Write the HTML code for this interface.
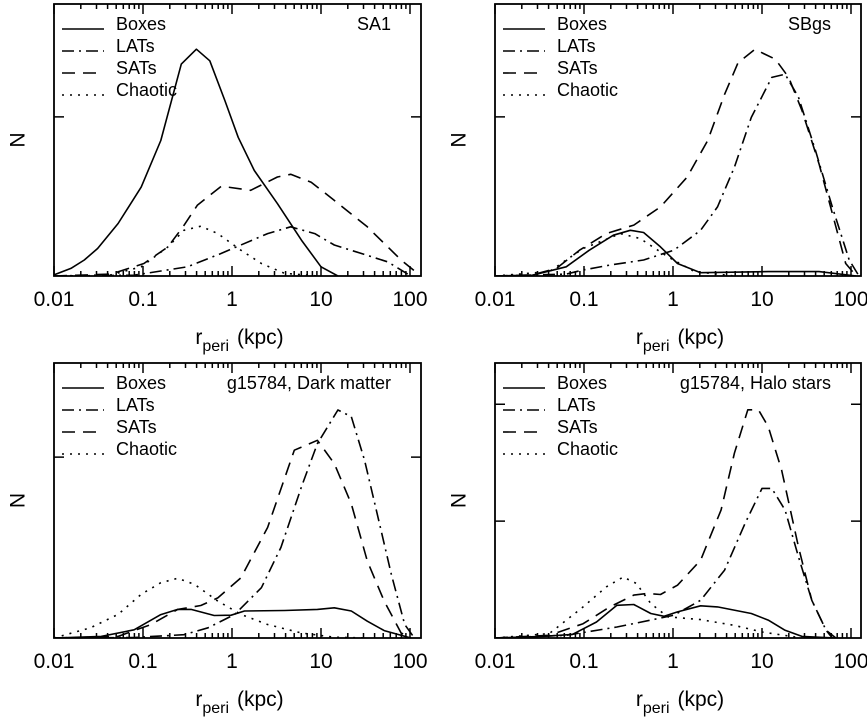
<!DOCTYPE html>
<html><head><meta charset="utf-8">
<style>
html,body{margin:0;padding:0;background:#fff;}
svg{display:block;font-family:"Liberation Sans",sans-serif;}
</style></head>
<body>
<svg id="fig" width="867" height="720" viewBox="0 0 867 720"></svg>
<script>
// ---- data (log10 r_peri [kpc], N in arbitrary units, 0..100 = panel height) ----
const xTickLabels = ["0.01","0.1","1","10","100"];
const seriesNames = ["Boxes","LATs","SATs","Chaotic"];
const panelTitles = ["SA1","SBgs","g15784, Dark matter","g15784, Halo stars"];

const saBoxesX = [-2,-1.81,-1.66,-1.51,-1.28,-1.02,-0.80,-0.57,-0.40,-0.25,-0.08,0.07,0.25,0.51,0.78,1.0,1.19];
const saBoxesY = [0.4,2.8,5.9,10.1,19.3,32.7,49.8,77.9,83.4,79.1,64.5,51.0,38.8,26.6,13.2,3.4,0];
const saLatsX = [-2,-1.10,-0.50,-0.12,0.10,0.40,0.66,0.93,1.15,1.45,1.75,2.01];
const saLatsY = [0,0.3,3.4,8.3,11.4,15.6,18.1,15.6,11.4,8.3,5.2,0];
const saSatsX = [-2,-1.36,-0.99,-0.72,-0.55,-0.39,-0.12,0.21,0.51,0.66,0.89,1.15,1.52,1.90,2.12];
const saSatsY = [0,0.7,4.6,10.7,18.1,26,33,31.5,36.4,37.4,34.5,27.8,18.1,5.9,0];
const saChaosX = [-2,-1.36,-1.02,-0.72,-0.54,-0.35,-0.16,0.10,0.33,0.59,0.96];
const saChaosY = [0,0.4,3.4,10.7,16.8,18.3,15.6,9.5,4.6,1,0];

const sbBoxesX = [-2,-1.58,-1.20,-0.94,-0.67,-0.48,-0.33,-0.14,0.05,0.31,1.07,1.64,2.06];
const sbBoxesY = [0,0.3,3.4,9.5,15,16.8,16,10.7,4.6,1.2,1.6,1.6,0];
const sbLatsX = [-2,-1.20,-1.01,-0.71,-0.33,0.01,0.31,0.50,0.69,0.88,1.11,1.26,1.41,1.60,1.79,1.98,2.09];
const sbLatsY = [0,0.7,2.2,4,5.9,9.5,16.8,25.4,40,58.3,73,74.2,65.7,46.2,25.4,5.9,0];
const sbSatsX = [-2,-1.58,-1.31,-1.05,-0.75,-0.44,-0.14,0.16,0.39,0.58,0.73,0.92,1.15,1.30,1.45,1.64,1.83,1.94,2.06];
const sbSatsY = [0,0.4,2.8,9.5,15.6,18.7,25.4,36.4,49.8,66.8,78.4,83.3,79.7,73,60.8,41.3,18.1,4.6,0];
const sbChaosX = [-2,-1.39,-1.01,-0.59,-0.37,-0.06,0.24,0.69];
const sbChaosY = [0,1.6,10.1,15.6,13.8,7.1,1.6,0];

const dmBoxesX = [-2,-1.47,-1.10,-0.80,-0.61,-0.46,-0.20,-0.01,0.14,0.59,0.96,1.15,1.34,1.52,1.71,2.01];
const dmBoxesY = [0,0.6,3,8.5,10.4,10.4,8.2,8.3,9.8,10,10.4,11,9.8,6.1,2.7,0];
const dmLatsX = [-2,-1.10,-0.54,-0.27,0.03,0.33,0.55,0.78,0.96,1.19,1.34,1.49,1.64,1.79,1.94,2.05];
const dmLatsY = [0,0.2,1.2,3.7,8.6,18.3,32.9,54.9,70.7,82.9,80.5,64.6,43.9,23.2,4.9,0];
const dmSatsX = [-2,-1.28,-0.91,-0.61,-0.35,-0.16,0.10,0.40,0.70,0.96,1.15,1.34,1.52,1.71,1.90,2.01];
const dmSatsY = [0,0.6,4.9,10.4,11.8,14.6,21.9,40.2,68.3,71.9,63.4,48.8,28,13.4,1.8,0];
const dmChaosX = [-2,-1.59,-1.28,-1.02,-0.80,-0.61,-0.42,-0.16,0.10,0.40,0.78,1.15,1.52];
const dmChaosY = [0,3.7,8.6,15.9,20.1,21.7,19.5,13.4,8.6,4.9,1.8,0.3,0];

const hsBoxesX = [-2,-1.47,-1.13,-0.86,-0.63,-0.44,-0.25,-0.10,0.05,0.31,0.50,0.88,1.07,1.26,1.45,1.83];
const hsBoxesY = [0,0.6,1.3,5.8,11.9,12.2,8.9,7.9,9.5,11.7,11.3,8.9,6.5,2.8,0.6,0];
const hsLatsX = [-2,-1.20,-0.63,-0.25,0.01,0.31,0.58,0.81,1.00,1.11,1.26,1.41,1.56,1.72,1.83];
const hsLatsY = [0,1,4,6.5,8.3,13.7,24.7,41.7,54.4,54.4,46.5,29.5,13.7,2.8,0];
const hsSatsX = [-2,-1.39,-1.01,-0.71,-0.44,-0.29,-0.14,0.05,0.31,0.54,0.69,0.84,0.96,1.07,1.22,1.41,1.56,1.72,1.79];
const hsSatsY = [0,1,5.2,11.3,15.6,16.2,15.8,19.2,28.3,46.6,67.2,83,83,76.9,61.1,33.1,13.7,2.8,0];
const hsChaosX = [-2,-1.39,-1.01,-0.75,-0.56,-0.41,-0.25,-0.06,0.31,0.69,1.00,1.45];
const hsChaosY = [0,1.6,11.3,18.6,22.2,19.8,12.5,7.7,6.7,4.6,2.2,0];

const saYTicks = [58.5];
const sbYTicks = [58.5];
const dmYTicks = [65.8];
const hsYTicks = [42.5, 85];

// ---- layout ----
const NS = "http://www.w3.org/2000/svg";
const svg = document.getElementById('fig');
const styles = [
  {dash: null},
  {dash: "12 5 2 5"},
  {dash: "13 8"},
  {dash: "2 6"}
];
const panels = [
  {x0:54, x1:421, y0:4, y1:276, title:panelTitles[0], yt:saYTicks, id:"sa1",
   s:[[saBoxesX,saBoxesY],[saLatsX,saLatsY],[saSatsX,saSatsY],[saChaosX,saChaosY]]},
  {x0:495, x1:861, y0:4, y1:276, title:panelTitles[1], yt:sbYTicks, id:"sbgs",
   s:[[sbBoxesX,sbBoxesY],[sbLatsX,sbLatsY],[sbSatsX,sbSatsY],[sbChaosX,sbChaosY]]},
  {x0:54, x1:421, y0:363, y1:638, title:panelTitles[2], yt:dmYTicks, id:"dark-matter",
   s:[[dmBoxesX,dmBoxesY],[dmLatsX,dmLatsY],[dmSatsX,dmSatsY],[dmChaosX,dmChaosY]]},
  {x0:495, x1:861, y0:363, y1:638, title:panelTitles[3], yt:hsYTicks, id:"halo-stars",
   s:[[hsBoxesX,hsBoxesY],[hsLatsX,hsLatsY],[hsSatsX,hsSatsY],[hsChaosX,hsChaosY]]}
];

function mk(tag, attrs, parent){
  const e = document.createElementNS(NS, tag);
  for (const k in attrs) e.setAttribute(k, attrs[k]);
  (parent||svg).appendChild(e);
  return e;
}

panels.forEach((p) => {
  const g = mk('g', {});
  
  
  const dec = 89;
  const xs = v => p.x0 + (v + 2) * dec;
  const ys = v => p.y1 - v / 100 * (p.y1 - p.y0);
  const cid = 'clip-' + p.id;
  const cp = mk('clipPath', {id: cid}, g);
  mk('rect', {x:p.x0, y:p.y0, width:p.x1-p.x0, height:p.y1-p.y0}, cp);
  p.s.forEach((sd, i) => {
    const pts = sd[0].map((v, j) => xs(v).toFixed(1) + ',' + ys(sd[1][j]).toFixed(1)).join(' ');
    const a = {points: pts, fill:'none', stroke:'#000', 'stroke-width':1.6, 'clip-path':'url(#'+cid+')', 'stroke-linejoin':'round'};
    if (styles[i].dash) a['stroke-dasharray'] = styles[i].dash;
    const pl = mk('polyline', a, g);
    
    
  });
  const fr = mk('rect', {x:p.x0, y:p.y0, width:p.x1-p.x0, height:p.y1-p.y0, fill:'none', stroke:'#000', 'stroke-width':1.8}, g);
  
  
  let d = '';
  for (let e = -2; e <= 2; e++) {
    for (let m = 1; m <= 9; m++) {
      const lv = e + Math.log10(m);
      if (lv > 2.124) break;
      const X = xs(lv);
      const L = m === 1 ? 10 : 5;
      d += `M${X.toFixed(1)},${p.y1}v${-L}M${X.toFixed(1)},${p.y0}v${L}`;
    }
  }
  p.yt.forEach(v => { const Y = ys(v); d += `M${p.x0},${Y.toFixed(1)}h10M${p.x1},${Y.toFixed(1)}h-10`; });
  const tk = mk('path', {d:d, stroke:'#000', 'stroke-width':1.5, fill:'none'}, g);
  
  
  xTickLabels.forEach((t, k) => {
    const tx = mk('text', {x: xs(k - 2), y: p.y1 + 30, 'font-size': 21, 'text-anchor':'middle'}, g);
    tx.textContent = t;
    
    
  });
  const xt = mk('text', {x: (p.x0 + p.x1) / 2 + 2, y: p.y1 + 68, 'font-size': 21, 'text-anchor':'middle'}, g);
  
  
  const t1 = mk('tspan', {}, xt); t1.textContent = 'r';
  const t2 = mk('tspan', {dy: 7, 'font-size': 16}, xt); t2.textContent = 'peri';
  const t3 = mk('tspan', {dy: -7, dx: 8}, xt); t3.textContent = '(kpc)';
  const cy = (p.y0 + p.y1) / 2;
  const yt = mk('text', {x: p.x0 - 44, y: cy, 'font-size': 21, 'text-anchor':'middle', transform:`rotate(90 ${p.x0-44} ${cy})`}, g);
  yt.textContent = 'N';
  
  
  const pt = mk('text', {x: p.x1 - 30, y: p.y0 + 26, 'font-size': 18, 'text-anchor':'end'}, g);
  pt.textContent = p.title;
  
  
  seriesNames.forEach((n, i) => {
    const ly = p.y0 + 25 + i * 22;
    const la = {x1: p.x0 + 8, x2: p.x0 + 50, y1: ly, y2: ly, stroke:'#000', 'stroke-width':1.6};
    if (styles[i].dash) la['stroke-dasharray'] = styles[i].dash;
    const ln = mk('line', la, g);
    
    
    const lt = mk('text', {x: p.x0 + 62, y: ly + 1, 'font-size': 18}, g);
    lt.textContent = n;
    
    
  });
});
</script>
</body></html>
